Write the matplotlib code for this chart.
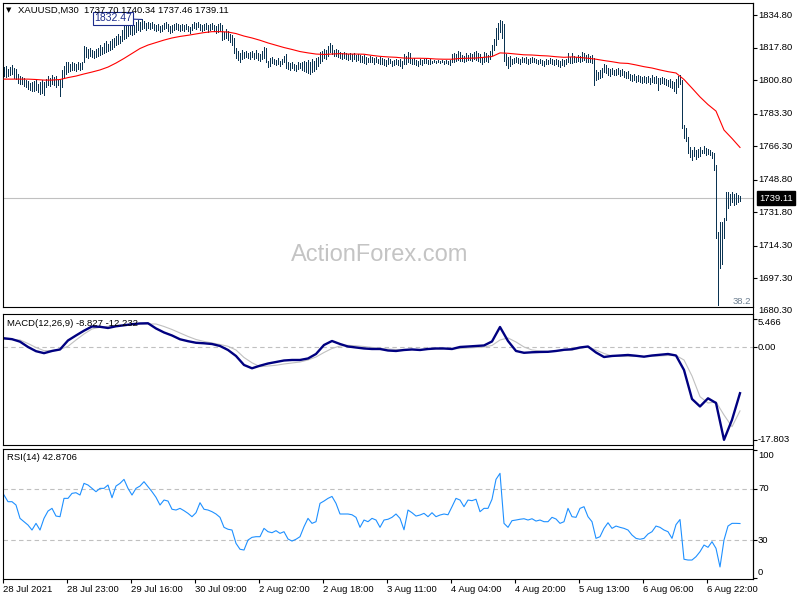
#!/usr/bin/env python3
"""XAUUSD M30 bar chart with MA, MACD(12,26,9) and RSI(14) panes, MT4 look."""
import numpy as np
import matplotlib
matplotlib.use("Agg")
import matplotlib.pyplot as plt
from matplotlib.lines import Line2D

plt.rcParams["font.family"] = ["Liberation Sans", "DejaVu Sans"]

# --- price bars (one per M30 bar) ------------------------------------------
highs = [
    1807.5, 1808.0, 1806.5, 1807.8, 1808.5, 1807.0, 1806.8, 1804.0, 1803.0, 1802.5,
    1802.0, 1801.0, 1800.5, 1799.5, 1800.0, 1800.5, 1801.0, 1799.0, 1800.0, 1801.0,
    1800.0, 1801.5, 1803.0, 1802.0, 1803.5, 1802.5, 1803.0, 1801.0, 1801.5, 1806.0,
    1808.0, 1810.5, 1810.0, 1809.0, 1810.5, 1809.5, 1809.0, 1810.0, 1809.5, 1810.0,
    1818.5, 1818.0, 1817.0, 1817.5, 1816.5, 1816.0, 1817.0, 1817.5, 1819.0, 1818.0,
    1820.0, 1821.0, 1819.5, 1821.0, 1822.0, 1823.0, 1824.0, 1825.0, 1824.0, 1827.0,
    1829.0, 1830.0, 1829.0, 1831.0, 1830.5, 1829.5, 1831.0, 1832.0, 1831.0, 1832.47,
    1831.5, 1830.5, 1831.0, 1830.5, 1831.0, 1830.0, 1829.5, 1830.0, 1829.0, 1829.5,
    1830.5, 1831.0, 1830.0, 1829.0, 1829.5, 1830.0, 1830.5, 1830.0, 1829.5, 1830.0,
    1829.5, 1830.0, 1829.0, 1828.5, 1830.0, 1831.0, 1830.5, 1831.0, 1830.0, 1829.5,
    1830.0, 1830.5, 1829.5, 1830.0, 1830.5, 1829.5, 1829.0, 1830.0, 1830.5, 1829.5,
    1826.0, 1827.5, 1826.5, 1825.0, 1824.5, 1823.0, 1817.5, 1816.0, 1815.0, 1816.5,
    1815.5, 1816.0, 1815.0, 1815.5, 1816.0, 1815.0, 1816.5, 1815.0, 1814.5, 1816.0,
    1818.0, 1817.5, 1811.0, 1812.5, 1813.0, 1812.0, 1811.5, 1812.5, 1811.0, 1812.0,
    1813.5, 1814.5, 1810.0, 1809.5, 1810.5, 1809.0, 1808.5, 1810.0, 1809.5, 1810.5,
    1811.0, 1810.0, 1811.5, 1810.5, 1812.0, 1811.0, 1812.5, 1813.0, 1815.5, 1816.0,
    1817.0, 1816.5, 1818.5, 1820.3, 1819.0, 1816.5, 1817.0, 1816.5, 1815.5, 1815.0,
    1815.5, 1815.0, 1814.5, 1815.0, 1814.5, 1815.0, 1814.0, 1814.5, 1814.0, 1813.5,
    1814.0, 1813.0, 1812.5, 1813.5, 1813.0, 1812.5, 1813.0, 1812.0, 1813.0, 1812.5,
    1812.0, 1811.5, 1812.5, 1812.0, 1811.0, 1811.5, 1812.0, 1811.5, 1812.0, 1811.0,
    1814.5, 1813.5, 1815.5, 1815.0, 1812.0, 1812.5, 1811.5, 1811.0, 1812.0, 1811.5,
    1812.0, 1812.5, 1811.5, 1812.0, 1811.0, 1811.5, 1811.0, 1811.5, 1811.0, 1811.5,
    1811.0, 1811.5, 1811.0, 1811.5, 1814.5, 1815.0, 1814.5, 1816.0, 1815.5, 1814.0,
    1813.5, 1815.0, 1814.0, 1815.0, 1814.5, 1815.5, 1816.0, 1815.0, 1814.5, 1812.5,
    1815.5, 1815.0, 1814.0, 1816.0, 1819.0, 1822.0, 1828.0, 1830.5, 1832.0, 1831.5,
    1830.0, 1814.5, 1813.0, 1813.5, 1812.0, 1812.5, 1813.0, 1812.5, 1812.0, 1813.0,
    1812.5, 1813.0, 1812.0, 1812.5, 1813.0, 1812.5, 1812.0, 1811.5, 1812.0, 1811.5,
    1811.0, 1812.0, 1811.5, 1812.5, 1812.0, 1811.5, 1812.0, 1811.5, 1811.0, 1812.0,
    1811.5, 1812.0, 1815.0, 1813.0, 1814.8, 1813.5, 1813.0, 1814.0, 1813.5, 1815.5,
    1815.0, 1814.0, 1814.5, 1813.5, 1814.0, 1812.2, 1806.0, 1805.0, 1806.0, 1807.0,
    1809.2, 1808.5, 1807.0, 1806.5, 1807.0, 1806.0, 1806.5, 1807.0, 1806.0, 1806.5,
    1805.5, 1805.0, 1805.5, 1804.0, 1803.5, 1804.0, 1803.0, 1803.5, 1803.0, 1802.5,
    1803.0, 1802.5, 1803.0, 1802.0, 1803.5, 1802.5, 1803.0, 1801.7, 1802.0, 1802.5,
    1802.0, 1801.5, 1801.0, 1801.5, 1800.5, 1800.0, 1801.5, 1803.0, 1803.5, 1800.8,
    1777.3, 1776.0, 1771.2, 1766.0, 1764.5, 1766.0, 1764.5, 1765.0, 1766.0, 1764.5,
    1766.3, 1765.5, 1765.0, 1764.5, 1763.2, 1762.5, 1756.4, 1721.6, 1726.8, 1726.8,
    1728.6, 1742.5, 1742.5, 1741.3, 1742.5, 1741.3, 1742.0, 1740.8, 1740.34,
]
lows = [
    1803.0, 1802.5, 1803.0, 1803.5, 1804.0, 1802.0, 1801.5, 1799.5, 1799.0, 1798.5,
    1797.5, 1797.0, 1796.0, 1795.5, 1795.0, 1795.0, 1795.5, 1794.5, 1793.5, 1794.0,
    1793.2, 1797.0, 1798.0, 1797.5, 1798.5, 1798.0, 1797.0, 1798.0, 1792.5, 1797.0,
    1802.0, 1804.0, 1805.0, 1805.5, 1806.0, 1806.0, 1805.5, 1806.5, 1806.0, 1806.5,
    1810.0, 1813.0, 1812.5, 1813.5, 1813.0, 1812.5, 1813.0, 1813.5, 1814.0, 1814.5,
    1815.0, 1815.5, 1816.0, 1816.5, 1817.0, 1818.0, 1819.0, 1819.5, 1820.0, 1821.0,
    1822.0, 1823.0, 1824.0, 1825.0, 1824.5, 1825.0, 1826.0, 1827.0, 1826.5, 1827.5,
    1828.0, 1827.0, 1828.0, 1827.5, 1828.0, 1827.0, 1826.5, 1827.0, 1826.0, 1826.5,
    1827.5, 1828.0, 1826.5, 1825.5, 1826.0, 1827.0, 1827.5, 1827.0, 1826.5, 1827.0,
    1826.5, 1827.5, 1826.5, 1825.5, 1827.0, 1828.0, 1827.5, 1828.5, 1827.0, 1826.5,
    1827.0, 1827.5, 1826.0, 1827.0, 1827.5, 1826.5, 1825.5, 1826.0, 1826.5, 1821.5,
    1822.0, 1823.0, 1821.5, 1820.5, 1819.0, 1815.0, 1812.5, 1811.5, 1810.5, 1812.0,
    1812.5, 1813.0, 1812.5, 1812.0, 1813.0, 1812.0, 1812.5, 1811.5, 1811.0, 1812.0,
    1812.5, 1810.0, 1807.5, 1808.0, 1809.5, 1809.0, 1808.5, 1809.0, 1808.0, 1809.0,
    1810.0, 1807.0, 1806.5, 1806.0, 1807.0, 1806.0, 1805.5, 1806.5, 1807.0, 1806.0,
    1805.5, 1805.0, 1804.5, 1804.0, 1805.0, 1805.5, 1806.5, 1808.0, 1809.5, 1811.0,
    1812.5, 1812.0, 1813.5, 1815.5, 1814.5, 1813.5, 1813.5, 1813.0, 1812.5, 1812.0,
    1812.5, 1812.0, 1811.5, 1812.0, 1811.0, 1812.0, 1811.0, 1811.5, 1810.5, 1810.0,
    1809.5, 1809.0, 1810.0, 1810.5, 1810.0, 1809.0, 1810.0, 1809.5, 1809.0, 1809.0,
    1808.5, 1808.0, 1809.0, 1809.5, 1808.0, 1808.5, 1809.0, 1808.5, 1808.0, 1807.0,
    1809.0, 1809.0, 1810.0, 1809.5, 1809.0, 1809.0, 1808.5, 1808.0, 1809.0, 1808.5,
    1809.5, 1809.5, 1809.0, 1809.0, 1809.5, 1810.0, 1809.5, 1810.0, 1809.5, 1810.0,
    1809.0, 1809.5, 1809.0, 1808.5, 1810.0, 1810.5, 1811.0, 1811.5, 1811.0, 1811.0,
    1810.5, 1811.0, 1811.5, 1811.5, 1811.0, 1812.0, 1811.5, 1811.0, 1810.0, 1809.0,
    1810.5, 1811.0, 1810.5, 1812.0, 1814.0, 1816.5, 1819.0, 1822.0, 1826.0, 1823.0,
    1811.0, 1808.5, 1807.0, 1808.0, 1809.0, 1809.5, 1810.0, 1809.5, 1809.0, 1810.0,
    1810.0, 1809.5, 1809.0, 1809.5, 1810.0, 1810.0, 1809.5, 1809.0, 1809.5, 1808.5,
    1808.0, 1809.0, 1809.0, 1809.5, 1809.0, 1808.5, 1809.0, 1808.0, 1807.5, 1808.5,
    1808.0, 1809.0, 1810.0, 1809.5, 1809.6, 1810.0, 1810.5, 1811.0, 1810.5, 1811.0,
    1811.5, 1810.0, 1810.5, 1810.0, 1809.5, 1798.2, 1800.8, 1801.5, 1802.0, 1802.5,
    1805.2, 1804.5, 1803.5, 1803.0, 1804.0, 1803.5, 1803.5, 1804.0, 1803.0, 1803.5,
    1802.5, 1802.0, 1802.0, 1801.0, 1800.5, 1801.0, 1800.0, 1800.5, 1800.0, 1799.5,
    1800.0, 1799.5, 1800.0, 1799.0, 1800.0, 1799.5, 1799.5, 1795.6, 1799.0, 1799.5,
    1798.5, 1798.0, 1797.5, 1797.0, 1796.5, 1795.0, 1794.0, 1797.0, 1799.0, 1775.6,
    1770.4, 1769.0, 1762.5, 1760.8, 1759.2, 1761.0, 1759.5, 1760.5, 1761.0, 1762.5,
    1762.5, 1761.8, 1762.2, 1761.8, 1760.0, 1754.0, 1718.2, 1683.3, 1702.4, 1704.6,
    1718.2, 1727.7, 1733.8, 1735.6, 1737.0, 1735.5, 1736.0, 1737.3, 1737.46,
]
# moving average, read every 4th bar
ma_values = [
    1801.3, 1801.3, 1801.3, 1801.3, 1801.1, 1800.8, 1800.8, 1801.1, 1802.1, 1802.9,
    1804.0, 1805.0, 1806.1, 1807.6, 1809.7, 1812.1, 1814.7, 1817.3, 1819.1, 1820.4,
    1821.7, 1822.8, 1823.6, 1824.2, 1824.9, 1825.6, 1826.1, 1826.1, 1825.9, 1825.1,
    1823.8, 1822.8, 1821.6, 1820.2, 1819.0, 1817.8, 1816.8, 1815.7, 1815.0, 1814.4,
    1814.2, 1814.4, 1814.6, 1814.4, 1814.4, 1814.3, 1813.7, 1813.2, 1812.9, 1812.7,
    1812.3, 1812.2, 1812.2, 1812.1, 1811.8, 1811.7, 1811.7, 1812.1, 1812.2, 1812.3,
    1812.7, 1813.1, 1815.0, 1814.8, 1814.4, 1814.0, 1813.9, 1813.6, 1813.4, 1813.0,
    1812.7, 1812.9, 1812.6, 1812.2, 1811.7, 1811.0, 1810.4, 1809.7, 1809.5, 1808.7,
    1807.8, 1807.1, 1806.1, 1805.2, 1804.5, 1801.1, 1796.6, 1792.0, 1788.0, 1784.6,
    1774.7, 1770.3, 1765.6,
]
# MACD(12,26,9), read every 4th bar
macd_main = [
    1.73, 1.56, 1.08, 0.06, -0.75, -1.13, -0.71, -0.42, 1.31, 2.27,
    3.19, 4.00, 3.94, 3.71, 4.04, 4.23, 4.44, 4.58, 4.62, 3.62,
    2.85, 2.27, 1.54, 1.17, 0.87, 0.77, 0.63, 0.25, -0.52, -1.67,
    -3.40, -4.04, -3.54, -3.12, -2.83, -2.54, -2.44, -2.44, -2.15, -1.29,
    0.44, 1.21, 0.63, 0.15, -0.04, -0.23, -0.33, -0.33, -0.62, -0.71,
    -0.52, -0.42, -0.52, -0.33, -0.23, -0.23, -0.33, 0.06, 0.15, 0.25,
    0.35, 1.12, 3.90, 1.21, -0.71, -1.06, -0.96, -0.90, -0.87, -0.71,
    -0.48, -0.38, -0.04, 0.15, -1.00, -1.87, -1.67, -1.58, -1.48, -1.63,
    -1.81, -1.58, -1.44, -1.29, -1.58, -4.37, -9.94, -11.38, -9.81, -10.71,
    -17.80, -13.96, -8.83,
]
macd_signal = [
    1.54, 1.50, 1.40, 0.73, -0.04, -0.65, -0.62, -0.42, 0.19, 1.40,
    2.56, 3.52, 3.85, 4.04, 4.19, 4.29, 4.48, 4.48, 4.48, 4.48,
    4.00, 3.42, 2.75, 2.08, 1.50, 1.12, 0.83, 0.54, 0.19, -0.52,
    -1.96, -2.98, -3.73, -3.60, -3.46, -3.21, -3.02, -2.83, -2.44, -1.87,
    -1.00, -0.23, 0.25, 0.38, 0.29, 0.15, -0.04, -0.19, -0.33, -0.42,
    -0.42, -0.42, -0.42, -0.38, -0.33, -0.33, -0.33, -0.23, -0.13, -0.04,
    0.06, 0.35, 1.40, 1.79, 1.02, 0.06, -0.52, -0.71, -0.81, -0.77,
    -0.62, -0.52, -0.23, 0.12, -0.52, -1.19, -1.67, -1.77, -1.77, -1.77,
    -1.77, -1.73, -1.67, -1.58, -1.58, -2.44, -5.52, -9.50, -10.71, -10.52,
    -13.02, -15.27, -12.23,
]
# RSI(14), read every 2nd bar
rsi_values = [
    65.1, 59.9, 59.9, 57.3, 46.9, 44.3, 41.7, 37.8, 43.0, 37.8,
    46.9, 52.6, 54.7, 48.7, 48.2, 62.5, 62.5, 66.4, 66.9, 65.1,
    74.2, 72.9, 70.3, 67.7, 70.3, 70.3, 72.9, 63.0, 72.1, 74.2,
    77.3, 70.3, 65.1, 70.3, 72.1, 75.5, 71.6, 67.7, 63.3, 57.3,
    61.2, 60.4, 54.0, 53.4, 54.7, 52.9, 50.8, 48.2, 51.3, 59.1,
    54.0, 53.4, 52.1, 50.3, 47.7, 39.9, 38.4, 37.8, 27.4, 22.8,
    22.2, 30.0, 32.1, 32.6, 32.6, 39.1, 36.5, 35.7, 37.3, 35.2,
    36.5, 30.8, 29.2, 30.6, 32.6, 40.4, 46.9, 43.0, 44.3, 58.6,
    60.4, 62.5, 64.0, 58.6, 50.3, 50.3, 50.3, 49.7, 47.7, 39.9,
    45.6, 44.3, 46.9, 45.6, 39.9, 45.6, 46.2, 47.7, 50.3, 46.9,
    38.0, 53.4, 51.3, 48.7, 49.5, 50.8, 48.2, 51.3, 48.2, 49.5,
    50.3, 49.7, 56.0, 62.5, 61.2, 56.0, 61.2, 60.7, 61.8, 52.1,
    54.7, 54.7, 61.8, 77.3, 82.0, 43.0, 39.9, 45.1, 45.6, 46.2,
    46.6, 45.6, 46.6, 44.8, 45.6, 44.3, 44.3, 47.7, 46.4, 43.0,
    44.3, 54.7, 48.2, 47.7, 54.7, 56.0, 48.2, 44.3, 31.3, 32.6,
    39.1, 43.5, 39.1, 40.9, 39.9, 39.1, 37.8, 33.9, 31.3, 30.6,
    31.3, 34.7, 36.5, 40.9, 39.9, 37.8, 36.5, 31.3, 42.0, 46.0,
    15.0, 14.4, 14.4, 17.0, 20.9, 26.1, 24.3, 28.7, 23.5, 9.0,
    30.0, 40.9, 43.0, 43.0, 42.87,
]

time_labels = ["28 Jul 2021", "28 Jul 23:00", "29 Jul 16:00", "30 Jul 09:00",
               "2 Aug 02:00", "2 Aug 18:00", "3 Aug 11:00", "4 Aug 04:00",
               "4 Aug 20:00", "5 Aug 13:00", "6 Aug 06:00", "6 Aug 22:00"]
price_labels = [1834.80, 1817.80, 1800.80, 1783.30, 1766.30, 1748.80,
                1731.80, 1714.30, 1697.30, 1680.30]
last_price = 1739.11
high_mark = 1832.47

BAR = "#0b3452"
FS = 6.8
W, H = 800, 600


def box(left, top, right, bottom):
    return [left / W, 1 - bottom / H, (right - left) / W, (bottom - top) / H]


def right_label(ax, value, text, dy=0):
    ax.annotate(text, xy=(1, value), xycoords=("axes fraction", "data"),
                xytext=(5, dy), textcoords="offset pixels", ha="left",
                va="center", fontsize=FS, annotation_clip=False)


def main():
    fig = plt.figure(figsize=(8, 6), dpi=100)
    ax_p = fig.add_axes(box(3, 3, 753, 307))
    ax_m = fig.add_axes(box(3, 314, 753, 445))
    ax_r = fig.add_axes(box(3, 449, 753, 579))

    for ax in (ax_p, ax_m, ax_r):
        ax.set_xlim(-0.5, 374.5)
        ax.set_xticks([])
        for s in ax.spines.values():
            s.set_linewidth(0.8)
            s.set_color("black")
        ax.yaxis.tick_right()
        ax.tick_params(axis="y", direction="out", length=3, width=0.8,
                       labelright=False, right=True, left=False)

    # --- price pane
    idx = np.arange(len(highs))
    ax_p.vlines(idx, lows, highs, colors=BAR, linewidth=0.7,
                antialiased=False)
    ma_x = np.arange(len(ma_values)) * 4
    ax_p.plot(ma_x, ma_values, color="#ff0000", lw=0.8, zorder=3)
    ax_p.axhline(last_price, color="#c0c0c0", lw=0.8, zorder=1)
    ax_p.set_ylim(1682.24, 1841.07)
    ax_p.set_yticks([v for v in price_labels if v > 1682.24])
    for v in price_labels:
        right_label(ax_p, v, f"{v:.2f}")
    ax_p.annotate(f"{last_price:.2f}", xy=(1, last_price),
                  xycoords=("axes fraction", "data"), xytext=(6, 0),
                  textcoords="offset pixels", ha="left", va="center",
                  fontsize=FS, color="white", annotation_clip=False,
                  bbox=dict(boxstyle="square,pad=0.25", fc="black", ec="black"))
    hi_i = int(np.argmax(highs))
    ax_p.annotate(f"{high_mark:.2f}", xy=(hi_i, high_mark), xytext=(-29, 1),
                  textcoords="offset pixels", ha="center", va="center",
                  fontsize=7.5, color="#1c2c8c",
                  bbox=dict(boxstyle="square,pad=0.12", fc="white",
                            ec="#1c2c8c", lw=0.8),
                  arrowprops=dict(arrowstyle="-", color="#1c2c8c", lw=0.8,
                                  shrinkA=0, shrinkB=0))
    fig.text(380 / W, 1 - 255 / H, "ActionForex.com", ha="center", va="center",
             fontsize=17, color="#c4c4c4")
    fig.text(751 / W, 1 - 301 / H, "38.2", ha="right", va="center",
             fontsize=FS, color="#6b7d8f")
    fig.text(6 / W, 1 - 10 / H, "\u25bc", family="DejaVu Sans", fontsize=5,
             va="center")
    fig.text(18 / W, 1 - 10 / H,
             "XAUUSD,M30  1737.70 1740.34 1737.46 1739.11",
             fontsize=FS, va="center")

    # --- MACD pane
    mx = np.arange(len(macd_main)) * 4
    sx = np.arange(len(macd_signal)) * 4
    ax_m.axhline(0, color="#c0c0c0", lw=0.8, ls=(0, (4, 3)))
    ax_m.plot(sx, macd_signal, color="#c0c0c0", lw=0.8)
    ax_m.plot(mx, macd_main, color="#000080", lw=1.7)
    ax_m.set_ylim(-18.79, 6.40)
    ax_m.set_yticks([5.466, 0.0, -17.803])
    right_label(ax_m, 5.466, "5.466", dy=-4)
    right_label(ax_m, 0.0, "0.00")
    right_label(ax_m, -17.803, "-17.803")
    fig.text(7 / W, 1 - 324 / H, "MACD(12,26,9) -8.827 -12.232",
             fontsize=FS, va="center")

    # --- RSI pane
    rx = np.arange(len(rsi_values)) * 2
    for lvl in (70, 30):
        ax_r.axhline(lvl, color="#c0c0c0", lw=0.8, ls=(0, (4, 3)))
    ax_r.plot(rx, rsi_values, color="#1e90ff", lw=0.8)
    ax_r.set_ylim(-0.4, 101.0)
    ax_r.set_yticks([100, 70, 30, 0])
    right_label(ax_r, 100, "100", dy=-5)
    right_label(ax_r, 70, "70")
    right_label(ax_r, 30, "30")
    right_label(ax_r, 0, "0", dy=6)
    fig.text(7 / W, 1 - 457 / H, "RSI(14) 42.8706", fontsize=FS, va="center")

    ax_r.set_xticks([k * 32 - 0.5 for k in range(len(time_labels))])
    ax_r.set_xticklabels(time_labels, fontsize=FS)
    ax_r.tick_params(axis="x", direction="out", length=3, width=0.8, pad=1.5)
    for t in ax_r.get_xticklabels():
        t.set_ha("left")

    fig.add_artist(Line2D([753 / W, 753 / W], [1 - 579 / H, 1 - 3 / H],
                          color="black", lw=0.8))

    fig.savefig("out.png", dpi=100)
    plt.close(fig)


if __name__ == "__main__":
    main()
